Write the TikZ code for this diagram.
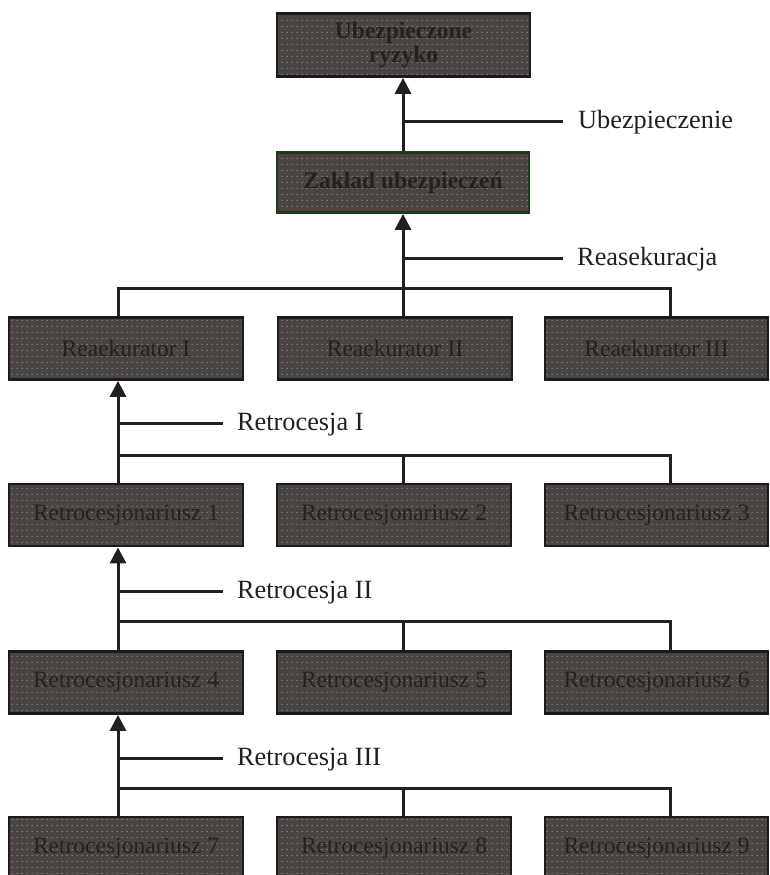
\documentclass[tikz,border=0pt]{standalone}
\usepackage{fontspec}
\setmainfont{Liberation Serif}
\usetikzlibrary{arrows.meta,patterns.meta}
\definecolor{boxfill}{HTML}{4A4442}
\definecolor{dotcol}{HTML}{B0AAA6}
\definecolor{boxline}{HTML}{1C1A1A}
\definecolor{greenline}{HTML}{1E3B1E}
\definecolor{boxtext}{HTML}{262020}
\definecolor{linecol}{HTML}{231F20}
\tikzdeclarepattern{
  name=mydots,
  type=uncolored,
  bounding box={(0pt,0pt) and (5pt,6pt)},
  tile size={(5pt,6pt)},
  code={\fill (2.5pt,3pt) circle (0.65pt);}
}
\begin{document}
\begin{tikzpicture}[x=1pt,y=-1pt,
  basebox/.style={draw=boxline, line width=2.8pt, preaction={fill=boxfill},
    pattern={mydots}, pattern color=dotcol, inner sep=0pt, text=boxtext,
    align=center},
  topbox/.style={basebox, font=\fontsize{23.5}{25}\selectfont\bfseries},
  rowbox/.style={basebox, minimum height=62pt, font=\fontsize{23.5}{25}\selectfont},
  wbox/.style={rowbox, minimum width=234pt},
  nbox/.style={rowbox, minimum width=223pt},
  lbl/.style={inner sep=0pt, text=linecol, font=\fontsize{26.3}{28}\selectfont},
  conn/.style={draw=linecol, line width=3pt},
  arr/.style={conn, -{Triangle[width=16pt,length=16pt]}}
]
\useasboundingbox (0,0) rectangle (770,875);

% top boxes
\node[topbox, minimum width=253pt, minimum height=63pt] (risk) at (403.5,45) {Ubezpieczone\\[-1pt]ryzyko};
\node[topbox, draw=greenline, minimum width=252pt, minimum height=60pt] (ins) at (403,182.5) {Zakład ubezpieczeń};

% row 1
\node[wbox] (r1) at (126,348.5) {Reaekurator I};
\node[wbox] (r2) at (395,348.5) {Reaekurator II};
\node[nbox] (r3) at (656.5,348.5) {Reaekurator III};
% row 2
\node[wbox] (s1) at (126,515) {Retrocesjonariusz 1};
\node[wbox] (s2) at (394,515) {Retrocesjonariusz 2};
\node[nbox] (s3) at (656.5,515) {Retrocesjonariusz 3};
% row 3
\node[wbox] (s4) at (126,682.5) {Retrocesjonariusz 4};
\node[wbox] (s5) at (394,682.5) {Retrocesjonariusz 5};
\node[nbox] (s6) at (656.5,682.5) {Retrocesjonariusz 6};
% row 4
\node[wbox] (s7) at (126,848) {Retrocesjonariusz 7};
\node[wbox] (s8) at (394,848) {Retrocesjonariusz 8};
\node[nbox] (s9) at (656.5,848) {Retrocesjonariusz 9};

% labels
\node[lbl, anchor=base west] (l0) at (578,128) {Ubezpieczenie};
\node[lbl, anchor=base west] (l1) at (577,265) {Reasekuracja};
\node[lbl, anchor=base west] (l2) at (237,430) {Retrocesja I};
\node[lbl, anchor=base west] (l3) at (237,598) {Retrocesja II};
\node[lbl, anchor=base west] (l4) at (237,765) {Retrocesja III};

% bus coordinates
\coordinate (a1) at (118,288); \coordinate (a2) at (403,288); \coordinate (a3) at (670,288);
\coordinate (b1) at (118,455); \coordinate (b2) at (403,455); \coordinate (b3) at (670,455);
\coordinate (c1) at (118,621); \coordinate (c2) at (403,621); \coordinate (c3) at (670,621);
\coordinate (d1) at (118,788); \coordinate (d2) at (403,788); \coordinate (d3) at (670,788);
% label line starts
\coordinate (m0) at (403,121);
\coordinate (m1) at (403,258);
\coordinate (m2) at (118,423);
\coordinate (m3) at (118,591);
\coordinate (m4) at (118,758);

% arrows
\draw[arr] (ins.north -| m0) -- (m0 |- risk.south);
\draw[arr] (a2 |- r2.north) -- (a2 |- ins.south);
\draw[arr] (b1 |- s1.north) -- (b1 |- r1.south);
\draw[arr] (c1 |- s4.north) -- (c1 |- s1.south);
\draw[arr] (d1 |- s7.north) -- (d1 |- s4.south);

% buses
\draw[conn] (a1 |- r1.north) -- (a1) -- (a3) -- (a3 |- r3.north);
\draw[conn] (b1) -- (b3) -- (b3 |- s3.north);
\draw[conn] (b2) -- (b2 |- s2.north);
\draw[conn] (c1) -- (c3) -- (c3 |- s6.north);
\draw[conn] (c2) -- (c2 |- s5.north);
\draw[conn] (d1) -- (d3) -- (d3 |- s9.north);
\draw[conn] (d2) -- (d2 |- s8.north);

% label lines
\draw[conn, shorten >=15pt] (m0) -- (m0 -| l0.west);
\draw[conn, shorten >=14pt] (m1) -- (m1 -| l1.west);
\draw[conn, shorten >=14pt] (m2) -- (m2 -| l2.west);
\draw[conn, shorten >=14pt] (m3) -- (m3 -| l3.west);
\draw[conn, shorten >=14pt] (m4) -- (m4 -| l4.west);
\end{tikzpicture}
\end{document}
